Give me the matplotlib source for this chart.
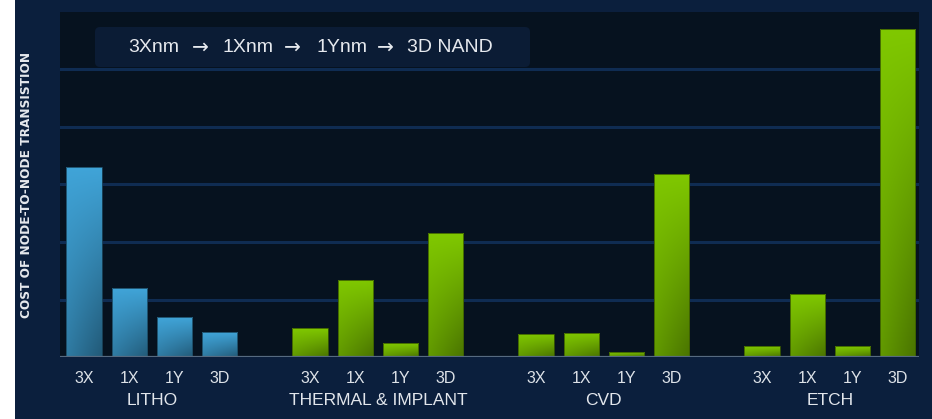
import numpy as np
import matplotlib
matplotlib.use("Agg")
import matplotlib.pyplot as plt
from matplotlib.patches import Rectangle, FancyBboxPatch
from matplotlib.colors import to_rgb
import matplotlib.transforms as mtransforms

plt.rcParams['font.family'] = ['Liberation Sans', 'DejaVu Sans']

# ---- data ----
groups = ['LITHO', 'THERMAL & IMPLANT', 'CVD', 'ETCH']
nodes = ['3X', '1X', '1Y', '3D']
litho = [3.30, 1.20, 0.69, 0.43]
thermal = [0.50, 1.34, 0.24, 2.15]
cvd = [0.40, 0.42, 0.09, 3.19]
etch = [0.19, 1.09, 0.19, 5.71]
series = [litho, thermal, cvd, etch]
banner_words = ['3Xnm', '1Xnm', '1Ynm', '3D NAND']
arrow = '\u2192'
ylabel = 'COST OF NODE-TO-NODE TRANSISTION'

# ---- style ----
W, H = 932, 419
fig = plt.figure(figsize=(W / 100, H / 100), dpi=100)
fig.patch.set_facecolor('white')
# navy panel
fig.patches.append(Rectangle((15 / W, 0), 1 - 15 / W, 1, transform=fig.transFigure,
                             facecolor='#0b1f3d', edgecolor='none', zorder=-5))

ax = fig.add_axes([60 / W, (H - 357) / H, (919 - 60) / W, (357 - 12) / H])
ax.set_zorder(1)
ax.set_facecolor('#06121f')
for s in ax.spines.values():
    s.set_visible(False)
ax.set_ylim(0, 6)
ax.set_xlim(-0.53, 18.47)
ax.set_yticks([1, 2, 3, 4, 5])
ax.set_yticklabels([])
ax.tick_params(axis='y', length=0)
ax.grid(axis='y', color='#0f2c52', linewidth=2.2)
ax.set_axisbelow(True)
ax.axhline(0, color='#566a80', linewidth=1.6, zorder=5)

blue_light, blue_dark = np.array(to_rgb('#40a4d8')), np.array(to_rgb('#225a78'))
green_light, green_dark = np.array(to_rgb('#80c800')), np.array(to_rgb('#4a7400'))

width = 0.78
positions, labels = [], []
trans = mtransforms.blended_transform_factory(ax.transData, ax.transAxes)
for g, vals in enumerate(series):
    xs = [g * 5 + i for i in range(len(vals))]
    light, dark = (blue_light, blue_dark) if g == 0 else (green_light, green_dark)
    bars = ax.bar(xs, vals, width=width, color='none', edgecolor='none', zorder=3)
    for b in bars:
        x0, y0 = b.get_x(), b.get_y()
        w, h = b.get_width(), b.get_height()
        u = np.linspace(0, 1, 40)[None, :]
        v = np.linspace(1, 0, 80)[:, None]  # top row v=1
        t = (1 - v) * (0.55 + 0.45 * u)
        img = light[None, None, :] * (1 - t[..., None]) + dark[None, None, :] * t[..., None]
        im = ax.imshow(img, extent=(x0, x0 + w, y0, y0 + h), aspect='auto',
                       origin='upper', zorder=3, interpolation='bilinear')
        im.set_clip_path(b)
        ax.add_patch(Rectangle((x0, y0), w, h, facecolor='none',
                               edgecolor=tuple(dark * 0.8), linewidth=0.6, zorder=4))
    positions += xs
    labels += nodes
    ax.text(np.mean(xs), -0.125, groups[g], transform=trans, ha='center', va='center',
            fontsize=12.5, color='#e2e6ec', clip_on=False)

ax.set_xticks(positions)
ax.set_xticklabels(labels, fontsize=11.5, color='#dde2e8')
ax.tick_params(axis='x', length=0, pad=10)
ax.set_ylim(0, 6)
ax.set_xlim(-0.53, 18.47)

# banner (drawn in an overlay axes in pixel-like coordinates)
bax = fig.add_axes([0, 0, 1, 1])
bax.set_zorder(5)
bax.set_xlim(0, W)
bax.set_ylim(H, 0)
bax.axis('off')
bax.patch.set_visible(False)
bax.add_patch(FancyBboxPatch((95, 27), 435, 40,
                             boxstyle='round,pad=0,rounding_size=5',
                             facecolor='#0b1c35', edgecolor='none'))
word_x = [128, 222, 316, 407]
arrow_x = [200, 292, 385]
for wx, wd in zip(word_x, banner_words):
    bax.text(wx, 47, wd, ha='left', va='center', fontsize=14, color='#e6e9ee')
for axx in arrow_x:
    bax.text(axx, 47, arrow, ha='center', va='center', fontsize=14.5,
             color='#e6e9ee', family='DejaVu Sans')

fig.text(27 / W, (H - 185) / H, ylabel, rotation=90, ha='center', va='center',
         fontsize=8.7, fontweight='bold', color='#e6e9ee', family='DejaVu Sans')

fig.savefig('out.png', dpi=100, facecolor=fig.get_facecolor())
